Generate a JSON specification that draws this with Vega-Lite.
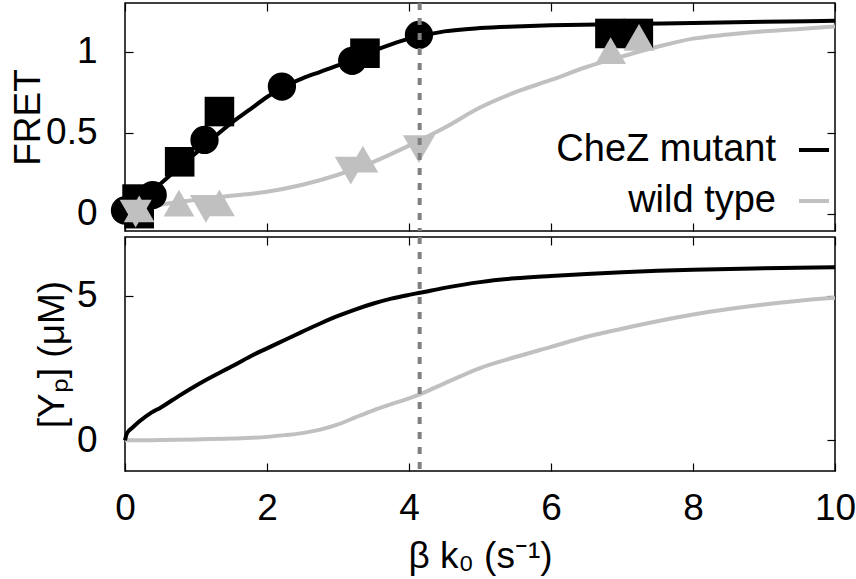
{
  "$schema": "https://vega.github.io/schema/vega-lite/v6.json",
  "padding": {"left": 8, "top": 0, "right": 5, "bottom": 2},
  "spacing": 0,
  "config": {
    "view": {"stroke": "#000", "strokeWidth": 1.5},
    "font": "Liberation Sans",
    "axis": {
      "domain": false,
      "grid": false,
      "tickColor": "#000",
      "tickSize": -8,
      "tickWidth": 1.2,
      "labelFlush": false,
      "labelFont": "Liberation Sans",
      "labelFontSize": 37,
      "labelColor": "#000",
      "titleFont": "Liberation Sans",
      "titleFontSize": 37,
      "titleFontWeight": "normal",
      "titleColor": "#000"
    }
  },
  "datasets": {
    "fret_fit": [
      {"k": 0, "fret": 0.0, "series": "wild type"},
      {"k": 0.25, "fret": 0.03, "series": "wild type"},
      {"k": 0.5, "fret": 0.055, "series": "wild type"},
      {"k": 1, "fret": 0.085, "series": "wild type"},
      {"k": 1.5, "fret": 0.11, "series": "wild type"},
      {"k": 2, "fret": 0.135, "series": "wild type"},
      {"k": 2.5, "fret": 0.178, "series": "wild type"},
      {"k": 3, "fret": 0.24, "series": "wild type"},
      {"k": 3.5, "fret": 0.32, "series": "wild type"},
      {"k": 4, "fret": 0.42, "series": "wild type"},
      {"k": 4.5, "fret": 0.53, "series": "wild type"},
      {"k": 5, "fret": 0.655, "series": "wild type"},
      {"k": 5.5, "fret": 0.75, "series": "wild type"},
      {"k": 6, "fret": 0.825, "series": "wild type"},
      {"k": 6.5, "fret": 0.905, "series": "wild type"},
      {"k": 7, "fret": 0.97, "series": "wild type"},
      {"k": 7.5, "fret": 1.03, "series": "wild type"},
      {"k": 8, "fret": 1.08, "series": "wild type"},
      {"k": 8.5, "fret": 1.105, "series": "wild type"},
      {"k": 9, "fret": 1.125, "series": "wild type"},
      {"k": 9.5, "fret": 1.14, "series": "wild type"},
      {"k": 10, "fret": 1.155, "series": "wild type"},
      {"k": 0, "fret": 0.0, "series": "CheZ mutant"},
      {"k": 0.25, "fret": 0.09, "series": "CheZ mutant"},
      {"k": 0.5, "fret": 0.185, "series": "CheZ mutant"},
      {"k": 0.75, "fret": 0.28, "series": "CheZ mutant"},
      {"k": 1, "fret": 0.375, "series": "CheZ mutant"},
      {"k": 1.25, "fret": 0.47, "series": "CheZ mutant"},
      {"k": 1.5, "fret": 0.56, "series": "CheZ mutant"},
      {"k": 1.75, "fret": 0.64, "series": "CheZ mutant"},
      {"k": 2, "fret": 0.72, "series": "CheZ mutant"},
      {"k": 2.25, "fret": 0.785, "series": "CheZ mutant"},
      {"k": 2.5, "fret": 0.835, "series": "CheZ mutant"},
      {"k": 2.75, "fret": 0.875, "series": "CheZ mutant"},
      {"k": 3, "fret": 0.915, "series": "CheZ mutant"},
      {"k": 3.25, "fret": 0.96, "series": "CheZ mutant"},
      {"k": 3.5, "fret": 1.005, "series": "CheZ mutant"},
      {"k": 3.75, "fret": 1.045, "series": "CheZ mutant"},
      {"k": 4, "fret": 1.08, "series": "CheZ mutant"},
      {"k": 4.25, "fret": 1.105, "series": "CheZ mutant"},
      {"k": 4.5, "fret": 1.125, "series": "CheZ mutant"},
      {"k": 5, "fret": 1.145, "series": "CheZ mutant"},
      {"k": 5.5, "fret": 1.155, "series": "CheZ mutant"},
      {"k": 6, "fret": 1.162, "series": "CheZ mutant"},
      {"k": 7, "fret": 1.17, "series": "CheZ mutant"},
      {"k": 8, "fret": 1.177, "series": "CheZ mutant"},
      {"k": 9, "fret": 1.184, "series": "CheZ mutant"},
      {"k": 10, "fret": 1.19, "series": "CheZ mutant"}
    ],
    "fret_points": [
      {"k": 0.0, "fret": 0.02, "series": "CheZ mutant", "set": "mutant A"},
      {"k": 0.39, "fret": 0.115, "series": "CheZ mutant", "set": "mutant A"},
      {"k": 1.12, "fret": 0.455, "series": "CheZ mutant", "set": "mutant A"},
      {"k": 2.21, "fret": 0.784, "series": "CheZ mutant", "set": "mutant A"},
      {"k": 3.2, "fret": 0.943, "series": "CheZ mutant", "set": "mutant A"},
      {"k": 4.14, "fret": 1.103, "series": "CheZ mutant", "set": "mutant A"},
      {"k": 0.17, "fret": 0.09, "series": "CheZ mutant", "set": "mutant B"},
      {"k": 0.2, "fret": 0.0, "series": "CheZ mutant", "set": "mutant B"},
      {"k": 0.77, "fret": 0.32, "series": "CheZ mutant", "set": "mutant B"},
      {"k": 1.33, "fret": 0.63, "series": "CheZ mutant", "set": "mutant B"},
      {"k": 3.38, "fret": 0.99, "series": "CheZ mutant", "set": "mutant B"},
      {"k": 6.83, "fret": 1.112, "series": "CheZ mutant", "set": "mutant B"},
      {"k": 7.23, "fret": 1.112, "series": "CheZ mutant", "set": "mutant B"},
      {"k": 0.2, "fret": 0.03, "series": "wild type", "set": "wild type A"},
      {"k": 0.76, "fret": 0.065, "series": "wild type", "set": "wild type A"},
      {"k": 1.33, "fret": 0.066, "series": "wild type", "set": "wild type A"},
      {"k": 3.35, "fret": 0.336, "series": "wild type", "set": "wild type A"},
      {"k": 6.84, "fret": 1.006, "series": "wild type", "set": "wild type A"},
      {"k": 7.24, "fret": 1.088, "series": "wild type", "set": "wild type A"},
      {"k": 0.15, "fret": 0.0, "series": "wild type", "set": "wild type B"},
      {"k": 1.14, "fret": 0.03, "series": "wild type", "set": "wild type B"},
      {"k": 3.18, "fret": 0.265, "series": "wild type", "set": "wild type B"},
      {"k": 4.14, "fret": 0.398, "series": "wild type", "set": "wild type B"}
    ],
    "yp_fit": [
      {"k": 0, "yp": 0.0, "series": "wild type"},
      {"k": 0.5, "yp": 0.01, "series": "wild type"},
      {"k": 1, "yp": 0.03, "series": "wild type"},
      {"k": 1.5, "yp": 0.06, "series": "wild type"},
      {"k": 2, "yp": 0.12, "series": "wild type"},
      {"k": 2.25, "yp": 0.18, "series": "wild type"},
      {"k": 2.5, "yp": 0.25, "series": "wild type"},
      {"k": 2.75, "yp": 0.37, "series": "wild type"},
      {"k": 3, "yp": 0.55, "series": "wild type"},
      {"k": 3.25, "yp": 0.8, "series": "wild type"},
      {"k": 3.5, "yp": 1.04, "series": "wild type"},
      {"k": 3.75, "yp": 1.25, "series": "wild type"},
      {"k": 4, "yp": 1.45, "series": "wild type"},
      {"k": 4.15, "yp": 1.59, "series": "wild type"},
      {"k": 4.5, "yp": 1.97, "series": "wild type"},
      {"k": 5, "yp": 2.5, "series": "wild type"},
      {"k": 5.5, "yp": 2.88, "series": "wild type"},
      {"k": 6, "yp": 3.23, "series": "wild type"},
      {"k": 6.5, "yp": 3.58, "series": "wild type"},
      {"k": 7, "yp": 3.86, "series": "wild type"},
      {"k": 7.5, "yp": 4.12, "series": "wild type"},
      {"k": 8, "yp": 4.35, "series": "wild type"},
      {"k": 8.5, "yp": 4.54, "series": "wild type"},
      {"k": 9, "yp": 4.7, "series": "wild type"},
      {"k": 9.5, "yp": 4.83, "series": "wild type"},
      {"k": 10, "yp": 4.93, "series": "wild type"},
      {"k": 0, "yp": 0.0, "series": "CheZ mutant"},
      {"k": 0.02, "yp": 0.2, "series": "CheZ mutant"},
      {"k": 0.05, "yp": 0.32, "series": "CheZ mutant"},
      {"k": 0.1, "yp": 0.43, "series": "CheZ mutant"},
      {"k": 0.2, "yp": 0.65, "series": "CheZ mutant"},
      {"k": 0.366, "yp": 0.95, "series": "CheZ mutant"},
      {"k": 0.5, "yp": 1.13, "series": "CheZ mutant"},
      {"k": 0.75, "yp": 1.52, "series": "CheZ mutant"},
      {"k": 1.07, "yp": 1.99, "series": "CheZ mutant"},
      {"k": 1.5, "yp": 2.55, "series": "CheZ mutant"},
      {"k": 1.77, "yp": 2.91, "series": "CheZ mutant"},
      {"k": 2, "yp": 3.18, "series": "CheZ mutant"},
      {"k": 2.25, "yp": 3.47, "series": "CheZ mutant"},
      {"k": 2.5, "yp": 3.76, "series": "CheZ mutant"},
      {"k": 2.75, "yp": 4.04, "series": "CheZ mutant"},
      {"k": 3, "yp": 4.3, "series": "CheZ mutant"},
      {"k": 3.25, "yp": 4.53, "series": "CheZ mutant"},
      {"k": 3.5, "yp": 4.73, "series": "CheZ mutant"},
      {"k": 3.75, "yp": 4.9, "series": "CheZ mutant"},
      {"k": 4, "yp": 5.03, "series": "CheZ mutant"},
      {"k": 4.15, "yp": 5.1, "series": "CheZ mutant"},
      {"k": 4.5, "yp": 5.27, "series": "CheZ mutant"},
      {"k": 5, "yp": 5.47, "series": "CheZ mutant"},
      {"k": 5.5, "yp": 5.6, "series": "CheZ mutant"},
      {"k": 6, "yp": 5.68, "series": "CheZ mutant"},
      {"k": 6.5, "yp": 5.75, "series": "CheZ mutant"},
      {"k": 7, "yp": 5.81, "series": "CheZ mutant"},
      {"k": 7.5, "yp": 5.86, "series": "CheZ mutant"},
      {"k": 8, "yp": 5.9, "series": "CheZ mutant"},
      {"k": 9, "yp": 5.95, "series": "CheZ mutant"},
      {"k": 10, "yp": 5.98, "series": "CheZ mutant"}
    ],
    "marker": [
      {"k": 4.15}
    ]
  },
  "resolve": {"scale": {"color": "independent", "fill": "independent"}, "legend": {"color": "independent"}},
  "vconcat": [
    {
      "width": 710,
      "height": 228,
      "resolve": {"axis": {"x": "independent", "y": "independent"}},
      "layer": [
        {
          "data": {"name": "fret_fit"},
          "transform": [{"filter": "datum.series === 'wild type'"}],
          "mark": {"type": "line", "strokeWidth": 4, "interpolate": "monotone"},
          "encoding": {
            "x": {"field": "k", "type": "quantitative", "scale": {"domain": [0, 10], "nice": false, "zero": false},
                  "axis": {"orient": "bottom", "values": [0, 2, 4, 6, 8, 10], "labels": false, "title": null}},
            "y": {"field": "fret", "type": "quantitative", "scale": {"domain": [-0.107, 1.3], "nice": false, "zero": false},
                  "axis": {"orient": "left", "values": [0, 0.5, 1], "format": "~g", "labelPadding": 36,
                           "title": "FRET", "titleX": -97, "titleY": 114, "titleAngle": -90, "titleAlign": "center", "titleBaseline": "middle"}},
            "color": {"field": "series", "type": "nominal",
                      "scale": {"domain": ["CheZ mutant", "wild type"], "range": ["#000000", "#c0c0c0"]},
                      "legend": {"orient": "none", "legendX": 670, "legendY": 128, "title": null, "padding": 0,
                                 "labelFont": "Liberation Sans", "labelFontSize": 38, "labelColor": "#000",
                                 "labelAlign": "right", "labelOffset": -57, "labelLimit": 400,
                                 "symbolType": "stroke", "symbolSize": 900, "symbolStrokeWidth": 4, "rowPadding": 13}}
          }
        },
        {
          "data": {"name": "fret_fit"},
          "transform": [{"filter": "datum.series === 'CheZ mutant'"}],
          "mark": {"type": "line", "strokeWidth": 4, "interpolate": "monotone"},
          "encoding": {
            "x": {"field": "k", "type": "quantitative", "axis": {"orient": "top", "values": [0, 2, 4, 6, 8, 10], "labels": false, "title": null}},
            "y": {"field": "fret", "type": "quantitative", "axis": {"orient": "right", "values": [0, 0.5, 1], "labels": false, "title": null}},
            "color": {"field": "series", "type": "nominal"}
          }
        },
        {
          "data": {"name": "fret_points"},
          "mark": {"type": "point", "filled": true, "opacity": 1, "strokeWidth": 0},
          "encoding": {
            "x": {"field": "k", "type": "quantitative", "axis": null},
            "y": {"field": "fret", "type": "quantitative", "axis": null},
            "fill": {"field": "series", "type": "nominal",
                     "scale": {"domain": ["CheZ mutant", "wild type"], "range": ["#000000", "#c0c0c0"]}, "legend": null},
            "shape": {"field": "set", "type": "nominal",
                      "scale": {"domain": ["mutant A", "mutant B", "wild type A", "wild type B"],
                                "range": ["circle", "square", "triangle-up", "triangle-down"]}, "legend": null},
            "size": {"field": "set", "type": "nominal",
                     "scale": {"domain": ["mutant A", "mutant B", "wild type A", "wild type B"],
                               "range": [800, 1024, 900, 900]}, "legend": null},
            "order": {"field": "series", "sort": "ascending"}
          }
        },
        {
          "data": {"name": "marker"},
          "mark": {"type": "rule", "color": "#808080", "strokeWidth": 4, "strokeDash": [7, 8]},
          "encoding": {"x": {"field": "k", "type": "quantitative", "axis": null}}
        }
      ]
    },
    {
      "width": 710,
      "height": 234,
      "resolve": {"axis": {"x": "independent", "y": "independent"}},
      "layer": [
        {
          "data": {"name": "yp_fit"},
          "transform": [{"filter": "datum.series === 'wild type'"}],
          "mark": {"type": "line", "strokeWidth": 4, "interpolate": "monotone"},
          "encoding": {
            "x": {"field": "k", "type": "quantitative", "scale": {"domain": [0, 10], "nice": false, "zero": false},
                  "axis": {"orient": "bottom", "values": [0, 2, 4, 6, 8, 10], "labelPadding": 27, "title": "β k₀ (s⁻¹)", "titlePadding": 12}},
            "y": {"field": "yp", "type": "quantitative", "scale": {"domain": [-1.06, 7.03], "nice": false, "zero": false},
                  "axis": {"orient": "left", "values": [0, 5], "labelPadding": 36,
                           "title": "[Yₚ] (μM)", "titleX": -73, "titleY": 117, "titleAngle": -90, "titleAlign": "center", "titleBaseline": "middle"}},
            "color": {"field": "series", "type": "nominal",
                      "scale": {"domain": ["CheZ mutant", "wild type"], "range": ["#000000", "#c0c0c0"]}, "legend": null}
          }
        },
        {
          "data": {"name": "yp_fit"},
          "transform": [{"filter": "datum.series === 'CheZ mutant'"}],
          "mark": {"type": "line", "strokeWidth": 4, "interpolate": "monotone"},
          "encoding": {
            "x": {"field": "k", "type": "quantitative", "axis": {"orient": "top", "values": [0, 2, 4, 6, 8, 10], "labels": false, "title": null}},
            "y": {"field": "yp", "type": "quantitative", "axis": {"orient": "right", "values": [0, 5], "labels": false, "title": null}},
            "color": {"field": "series", "type": "nominal"}
          }
        },
        {
          "data": {"name": "marker"},
          "mark": {"type": "rule", "color": "#808080", "strokeWidth": 4, "strokeDash": [7, 8]},
          "encoding": {"x": {"field": "k", "type": "quantitative", "axis": null}}
        }
      ]
    }
  ]
}
